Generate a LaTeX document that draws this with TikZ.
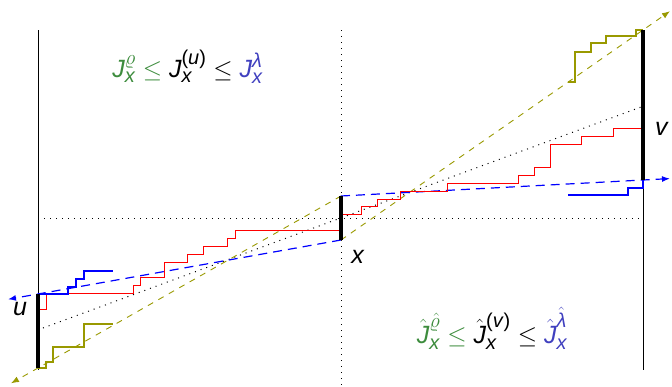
\documentclass[tikz,border=0pt]{standalone}
\usepackage{amsmath}
\usepackage{fontspec}
\setmainfont{Liberation Sans}
\usetikzlibrary{arrows.meta}
\DeclareMathSizes{25}{25}{20}{16}
\definecolor{olv}{RGB}{153,153,0}
\definecolor{grn}{RGB}{61,140,61}
\definecolor{blt}{RGB}{64,64,191}
\newcommand\mJ{\textit{J}}
\newcommand\mx{\textit{x}}
\begin{document}
\begin{tikzpicture}[x=1pt,y=-1pt,
  thinline/.style={black,line width=0.9pt},
  thickline/.style={black,line width=4pt},
  dotline/.style={black,line width=1pt,dash pattern=on 1pt off 5pt},
  redstair/.style={red,line width=0.9pt},
  bluestair/.style={blue,line width=2pt},
  olivestair/.style={olv,line width=2pt},
  bluedash/.style={blue,line width=1.2pt,dash pattern=on 9pt off 6pt,-{Latex[length=8pt,width=6pt]}},
  olivedash/.style={olv,line width=0.9pt,dash pattern=on 6pt off 6pt,-{Latex[length=8pt,width=6pt]}},
  lbl/.style={anchor=base,inner sep=0pt,font=\fontsize{25}{30}\selectfont},
  formula/.style={anchor=base,inner sep=0pt,font=\fontsize{25}{30}\selectfont}]
\useasboundingbox (0,0) rectangle (672,386);
% coordinates
\coordinate (ltop) at (38,30);
\coordinate (lbot) at (38,370);
\coordinate (rtop) at (643,30);
\coordinate (rbot) at (643,370);
\coordinate (mtop) at (341,30);
\coordinate (mbot) at (341,386);
\coordinate (uhi) at (38,294);
\coordinate (ulo) at (38,368);
\coordinate (vhi) at (643,30);
\coordinate (vlo) at (643,180);
\coordinate (xhi) at (341,196);
\coordinate (xlo) at (341,240);
\coordinate (hl) at (38,218);
\coordinate (hr) at (643,218);
\coordinate (dl) at (43,328);
\coordinate (dr) at (641,107);
\coordinate (bltip) at (8,299.3);
\coordinate (brtip) at (670,178.6);
\coordinate (oltip) at (11,383.3);
\coordinate (ortip) at (670,11.2);
% frame lines
\draw[thinline] (ltop) -- (lbot);
\draw[thinline] (rtop) -- (rbot);
\draw[dotline] (mtop) -- (mbot);
\draw[dotline] (hl) -- (hr);
\draw[dotline] (dl) -- (dr);
% dashed lines
\draw[olivedash] (xhi) -- (ulo) -- (oltip);
\draw[olivedash] (xlo) -- (vhi) -- (ortip);
\draw[bluedash] (xlo) -- (uhi) -- (bltip);
\draw[bluedash] (xhi) -- (vlo) -- (brtip);
% red staircase
\draw[redstair] (38,309) -- (46,309) -- (46,293) -- (133,293) -- (133,285) -- (140,285) -- (140,277) -- (164,277) -- (164,262) -- (187,262) -- (187,254) -- (203,254) -- (203,246) -- (227,246) -- (227,238) -- (235,238) -- (235,230) -- (341,230) -- (341,214) -- (361,214) -- (361,206) -- (377,206) -- (377,199) -- (400,199) -- (400,191) -- (447,191) -- (447,183) -- (518,183) -- (518,175) -- (534,175) -- (534,167) -- (550,167) -- (550,144) -- (581,144) -- (581,136) -- (613,136) -- (613,128) -- (643,128);
% blue staircases
\draw[bluestair] (uhi) -- (68,294) -- (68,287) -- (76,287) -- (76,279) -- (84,279) -- (84,271) -- (113,271);
\draw[bluestair] (568,195) -- (628,195) -- (628,188) -- (643,188) -- (vlo);
% olive staircases
\draw[olivestair] (ulo) -- (46,368) -- (46,362) -- (53,362) -- (53,347) -- (84,347) -- (84,324) -- (113,324);
\draw[olivestair] (568,82) -- (575,82) -- (575,52) -- (591,52) -- (591,43) -- (606,43) -- (606,36) -- (636,36) -- (636,30) -- (vhi);
% thick intervals
\draw[thickline] (uhi) -- (ulo);
\draw[thickline] (vhi) -- (vlo);
\draw[thickline] (xhi) -- (xlo);
% labels
\node[lbl] (lu) at (20,315) {\textit{u}};
\node[lbl] (lv) at (662,135) {\textit{v}};
\node[lbl] (lx) at (358,263) {\textit{x}};
\node[formula] (ftop) at (187.5,77) {$\color{grn}\mJ_{\mx}^{\varrho} \le \color{black}\mJ_{\mx}^{\textnormal{(\textit{u})}} \le \color{blt}\mJ_{\mx}^{\textit{λ}}$};
\node[formula] (fbot) at (492,343) {$\color{grn}\hat{\mJ}_{\mx}^{\hat{\varrho}} \le \color{black}\hat{\mJ}_{\mx}^{\textnormal{(\textit{v})}} \le \color{blt}\hat{\mJ}_{\mx}^{\hat{\textit{λ}}}$};
\end{tikzpicture}
\end{document}
